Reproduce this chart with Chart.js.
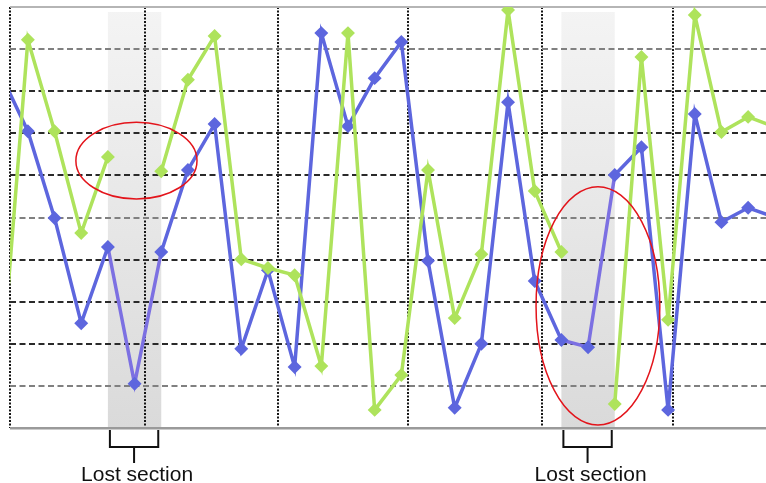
<!DOCTYPE html>
<html>
<head>
  <style>
    body {
      margin: 0;
      padding: 0;
      background: #fff;
      font-family: Arial, "Liberation Sans", sans-serif;
    }
    #chart {
      display: block;
    }
  </style>
  <script src="https://cdn.jsdelivr.net/npm/chart.js"></script>
</head>
<body>
  <canvas id="chart" width="766" height="483"></canvas>

  <script>
    // sample index along the x axis (the first and last sit just outside the visible area)
    const samples = [0, 1, 2, 3, 4, 5, 6, 7, 8, 9, 10, 11, 12, 13, 14, 15, 16, 17, 18, 19, 20, 21, 22, 23, 24, 25, 26, 27, 28, 29];

    // blue trace - continuous, also through the lost sections
    const blueValues = [8.38, 7.05, 4.99, 2.49, 4.30, 1.05, 4.18, 6.13, 7.22, 1.88, 3.75, 1.45, 9.38, 7.17, 8.31,
                        9.17, 3.97, 0.48, 2.00, 7.74, 3.49, 2.09, 1.92, 6.01, 6.67, 0.43, 7.46, 4.89, 5.23, 5.01];

    // green trace - null where the sample was lost
    const greenValues = [1.26, 9.22, 7.05, 4.63, 6.44, null, 6.10, 8.27, 9.31, 4.01, 3.80, 3.63, 1.47, 9.38, 0.43,
                         1.26, 6.13, 2.61, 4.13, 9.93, 5.63, 4.18, null, 0.57, 8.81, 2.57, 9.81, 7.03, 7.39, 7.15];

    // lost sections, as [from, to] sample index
    const lostSections = [[4, 6], [21, 23]];
    const lostLabel = "Lost section";

    // vertical (dotted) grid lines and horizontal (dashed) grid lines
    const xGridAt = [0.33, 5.39, 10.37, 15.24, 20.27, 25.18];
    const yTicks = [0, 1, 2, 3, 4, 5, 6, 7, 8, 9, 10];
    const lightLines = [1, 5, 9];

    // red circles around the lost data (centre and radii in axis units)
    const circled = [
      { cx: 5.07, cy: 6.35, rx: 2.27, ry: 0.91 },
      { cx: 22.37, cy: 2.90, rx: 2.32, ry: 2.83 }
    ];

    const BLUE = "#5d66de";
    const GREEN = "#aee35c";
    const LOST_BLUE = "#7c70e2";

    function inLost(a, b) {
      return lostSections.some(([s, e]) => a >= s && b <= e);
    }

    const extras = {
      id: "extras",
      beforeDraw(chart) {
        const { ctx, chartArea, scales: { x } } = chart;
        ctx.save();
        lostSections.forEach(([a, b]) => {
          const x0 = x.getPixelForValue(a);
          const x1 = x.getPixelForValue(b);
          const g = ctx.createLinearGradient(0, chartArea.top, 0, chartArea.bottom);
          g.addColorStop(0, "#f4f4f4");
          g.addColorStop(1, "#dadada");
          ctx.fillStyle = g;
          ctx.fillRect(x0, chartArea.top + 5, x1 - x0, chartArea.bottom - chartArea.top - 5);
        });
        ctx.restore();
      },
      afterDraw(chart) {
        const { ctx, chartArea, scales: { x, y } } = chart;
        ctx.save();

        // red ellipses
        ctx.strokeStyle = "#e3141b";
        ctx.lineWidth = 1.5;
        circled.forEach(c => {
          const px = x.getPixelForValue(c.cx);
          const py = y.getPixelForValue(c.cy);
          const rx = x.getPixelForValue(c.cx + c.rx) - px;
          const ry = py - y.getPixelForValue(c.cy + c.ry);
          ctx.beginPath();
          ctx.ellipse(px, py, rx, ry, 0, 0, Math.PI * 2);
          ctx.stroke();
        });

        // brackets + labels under the axis
        ctx.strokeStyle = "#111";
        ctx.lineWidth = 2;
        ctx.fillStyle = "#111";
        ctx.font = "21px Arial, 'Liberation Sans', sans-serif";
        ctx.textAlign = "center";
        ctx.textBaseline = "alphabetic";
        const top = chartArea.bottom + 2;
        lostSections.forEach(([a, b]) => {
          const x0 = x.getPixelForValue(a) + 2;
          const x1 = x.getPixelForValue(b) - 3;
          const mid = (x0 + x1) / 2;
          ctx.beginPath();
          ctx.moveTo(x0, top);
          ctx.lineTo(x0, top + 17);
          ctx.lineTo(x1, top + 17);
          ctx.lineTo(x1, top);
          ctx.moveTo(mid, top + 17);
          ctx.lineTo(mid, top + 33);
          ctx.stroke();
          ctx.fillText(lostLabel, mid + 3, top + 51);
        });
        ctx.restore();
      }
    };

    const ctx = document.getElementById("chart").getContext("2d");
    const chart = new Chart(ctx, {
      type: "line",
      data: {
        datasets: [
          {
            label: "Green",
            data: samples.map((s, k) => ({ x: s, y: greenValues[k] })),
            borderColor: GREEN,
            backgroundColor: GREEN,
            borderWidth: 3.5,
            pointStyle: "rectRot",
            pointRadius: 4.5,
            spanGaps: false,
            tension: 0
          },
          {
            label: "Blue",
            data: samples.map((s, k) => ({ x: s, y: blueValues[k] })),
            borderColor: BLUE,
            backgroundColor: BLUE,
            borderWidth: 3.5,
            pointStyle: "rectRot",
            pointRadius: 4.5,
            tension: 0,
            segment: {
              borderColor: c => inLost(c.p0.parsed.x, c.p1.parsed.x) ? LOST_BLUE : undefined
            }
          }
        ]
      },
      options: {
        responsive: false,
        animation: false,
        layout: {
          autoPadding: false,
          padding: { left: 10, top: 7, right: 0, bottom: 55 }
        },
        scales: {
          x: {
            type: "linear",
            min: 0.33,
            max: 28.67,
            afterBuildTicks: scale => {
              scale.ticks = xGridAt.map(v => ({ value: v }));
            },
            ticks: { display: false },
            grid: {
              color: "#151515",
              lineWidth: 2,
              drawTicks: false
            },
            border: { display: false, dash: [2, 1.5] }
          },
          y: {
            type: "linear",
            min: 0,
            max: 10,
            afterBuildTicks: scale => {
              scale.ticks = yTicks.map(v => ({ value: v }));
            },
            ticks: { display: false },
            grid: {
              drawTicks: false,
              color: c => {
                const v = c.tick.value;
                if (v === 0) return "#9a9a9a";
                if (v === 10) return "#b5b5b5";
                return lightLines.includes(v) ? "#808080" : "#2a2a2a";
              },
              lineWidth: c => (c.tick.value === 0 ? 2.5 : 2)
            },
            border: {
              display: false,
              dash: c => (c.tick.value === 0 || c.tick.value === 10 ? [] : [6, 3.5])
            }
          }
        },
        plugins: {
          legend: { display: false },
          tooltip: { enabled: false }
        }
      },
      plugins: [extras]
    });
  </script>
</body>
</html>
